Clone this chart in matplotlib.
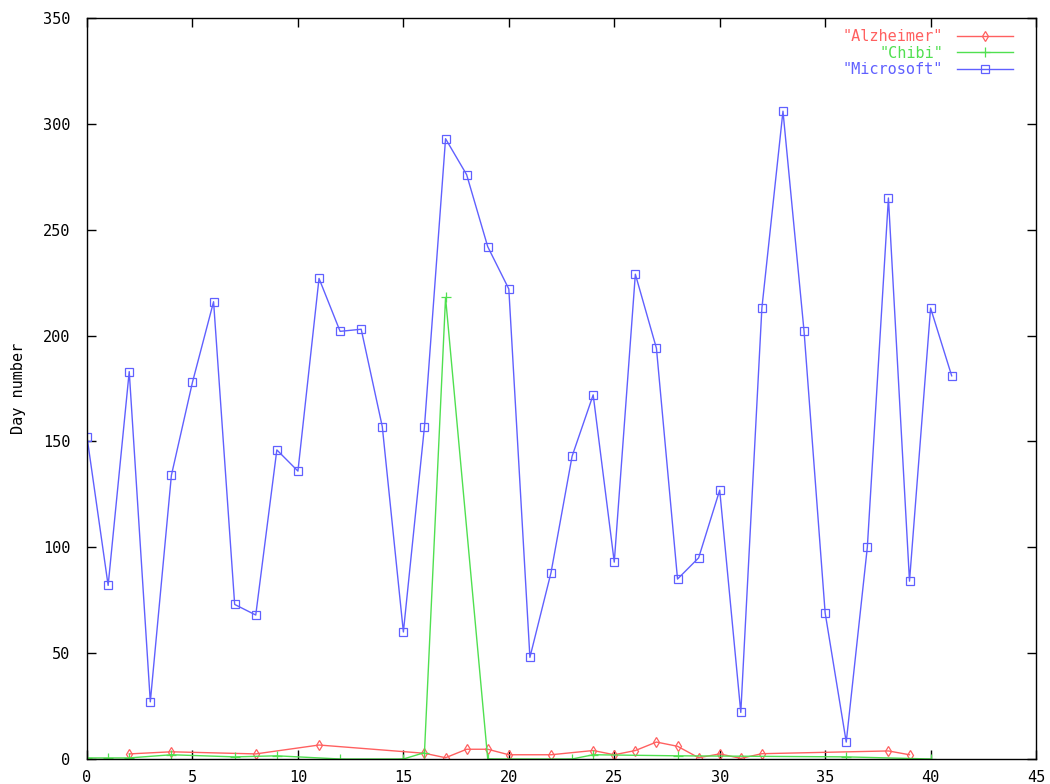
import numpy as np
from matplotlib import pyplot as plt

# data
ms_x = list(range(42))
ms_y = [152, 82, 183, 27, 134, 178, 216, 73, 68, 146,
        136, 227, 202, 203, 157, 60, 157, 293, 276, 242,
        222, 48, 88, 143, 172, 93, 229, 194, 85, 95,
        127, 22, 213, 306, 202, 69, 8, 100, 265, 84,
        213, 181]

alz_x = [2, 4, 8, 11, 16, 17, 18, 19, 20, 22, 24, 25, 26, 27, 28, 29, 30, 31, 32, 38, 39]
alz_y = [2.4, 3.4, 2.4, 6.6, 2.7, 0.6, 4.6, 4.6, 2, 2, 4, 2, 4, 8, 6, 0.6, 2.4, 0.3, 2.5, 3.8, 2]

chibi_x = [0, 1, 2, 4, 7, 9, 12, 15, 16, 17, 19, 23, 24, 28, 36, 40]
chibi_y = [0.5, 0.5, 0.5, 2, 1, 1.5, 0, 0, 3, 218, 0, 0, 2, 1.5, 1, 0]

red = '#ff6060'
green = '#50e050'
blue = '#6060ff'

plt.rcParams['font.family'] = ['DejaVu Sans Mono']
fs = 11

fig = plt.figure(figsize=(10.5, 7.84), dpi=100)
ax = fig.add_axes([0.0829, 0.0319, 0.9038, 0.9451])

ax.plot(alz_x, alz_y, color=red, lw=1, marker='d', ms=5, mfc='none', mew=0.9,
        label='"Alzheimer"')
ax.plot(chibi_x, chibi_y, color=green, lw=1, marker='+', ms=7, mew=0.9,
        label='"Chibi"')
ax.plot(ms_x, ms_y, color=blue, lw=1, marker='s', ms=5.5, mfc='none', mew=0.9,
        label='"Microsoft"')

ax.set_xlim(0, 45)
ax.set_ylim(0, 350)
ax.set_xticks(np.arange(0, 46, 5))
ax.set_yticks(np.arange(0, 351, 50))
ax.tick_params(direction='in', length=6.5, width=1, labelsize=fs,
               top=True, right=True, pad=8)
ax.tick_params(axis='y', pad=12)
for s in ax.spines.values():
    s.set_linewidth(1)
ax.set_ylabel('Day number', fontsize=fs, labelpad=12)

leg = ax.legend(loc='upper right', bbox_to_anchor=(0.976, 0.985),
                markerfirst=False, frameon=False, labelcolor='linecolor',
                fontsize=fs, handlelength=3.7, handletextpad=0.9,
                labelspacing=0.1, borderaxespad=0, borderpad=0)

plt.savefig('out.png', dpi=100)
